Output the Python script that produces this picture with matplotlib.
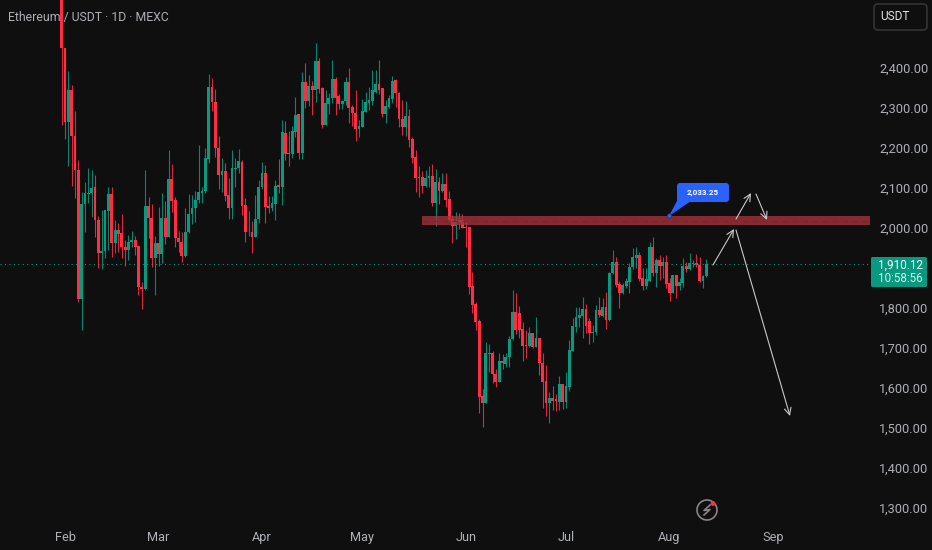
"""
Ethereum / USDT daily candles, dark TradingView look, with the resistance zone
and the hand drawn scenario arrows.
"""

import matplotlib
matplotlib.use('Agg')
import matplotlib.pyplot as plt
import matplotlib.dates as mdates
import pandas as pd
from matplotlib.patches import Rectangle, FancyBboxPatch, Circle, Polygon

opens = [
    2640, 2449, 2266, 2345, 2230, 2145, 1822, 2060, 2085, 2087,
    2103, 2020, 1937, 1943, 2043, 2084, 1962, 1995, 1987, 1953,
    1945, 1966, 1970, 1955, 1853, 1847, 2055, 2024, 1926, 1962,
    1935, 2024, 1978, 2122, 2070, 1976, 1966, 1931, 1989, 2034,
    2049, 2070, 2088, 2093, 2172, 2352, 2314, 2199, 2132, 2142,
    2082, 2049, 2148, 2149, 2166, 2057, 1989, 1991, 1978, 2022,
    2103, 2137, 2055, 2051, 2060, 2107, 2103, 2238, 2188, 2185,
    2241, 2284, 2188, 2366, 2317, 2356, 2345, 2418, 2349, 2258,
    2310, 2324, 2372, 2330, 2310, 2317, 2366, 2303, 2287, 2248,
    2253, 2290, 2313, 2318, 2341, 2359, 2349, 2285, 2303, 2323,
    2370, 2338, 2272, 2253, 2280, 2222, 2177, 2127, 2127, 2105,
    2124, 2131, 2062, 2115, 2093, 2111, 2072, 2022, 2006, 2016,
    2020, 2002, 2002, 1855, 1810, 1767, 1580, 1563, 1685, 1687,
    1634, 1616, 1668, 1660, 1677, 1722, 1791, 1788, 1747, 1707,
    1705, 1737, 1702, 1724, 1663, 1617, 1562, 1574, 1572, 1566,
    1610, 1566, 1603, 1693, 1753, 1776, 1780, 1797, 1767, 1738,
    1740, 1795, 1780, 1803, 1770, 1887, 1916, 1860, 1837, 1856,
    1866, 1902, 1926, 1932, 1874, 1855, 1868, 1952, 1887, 1920,
    1906, 1916, 1862, 1838, 1882, 1855, 1863, 1906, 1897, 1910,
    1913, 1907, 1868, 1880,
]
closes = [
    2449, 2266, 2345, 2230, 2145, 1822, 2060, 2087, 2088, 2099,
    2020, 1937, 1943, 2045, 2084, 1962, 1995, 1985, 1952, 1945,
    1966, 1970, 1953, 1852, 1847, 2055, 2024, 1926, 1962, 1935,
    2024, 1978, 2122, 2068, 1974, 1964, 1931, 1989, 2034, 2049,
    2070, 2091, 2093, 2176, 2352, 2314, 2201, 2132, 2142, 2080,
    2049, 2149, 2151, 2168, 2055, 1989, 1991, 1978, 2022, 2103,
    2137, 2053, 2051, 2062, 2105, 2103, 2239, 2185, 2185, 2242,
    2283, 2188, 2366, 2317, 2356, 2345, 2418, 2347, 2258, 2312,
    2324, 2372, 2326, 2310, 2317, 2366, 2301, 2287, 2248, 2255,
    2292, 2314, 2320, 2345, 2359, 2345, 2285, 2305, 2324, 2368,
    2337, 2272, 2253, 2280, 2220, 2174, 2126, 2126, 2105, 2124,
    2131, 2062, 2115, 2093, 2111, 2070, 2020, 2006, 2018, 2020,
    2001, 2001, 1853, 1808, 1766, 1578, 1563, 1687, 1687, 1634,
    1616, 1668, 1662, 1677, 1722, 1791, 1745, 1745, 1706, 1705,
    1737, 1702, 1724, 1663, 1616, 1562, 1574, 1568, 1568, 1610,
    1566, 1605, 1695, 1755, 1777, 1782, 1797, 1755, 1738, 1740,
    1795, 1782, 1803, 1770, 1888, 1916, 1857, 1837, 1857, 1868,
    1903, 1927, 1932, 1873, 1855, 1872, 1952, 1887, 1920, 1906,
    1916, 1859, 1838, 1882, 1855, 1866, 1905, 1897, 1912, 1913,
    1907, 1868, 1880, 1910,
]
highs = [
    2800, 2449, 2393, 2357, 2292, 2170, 2091, 2116, 2149, 2145,
    2132, 2030, 2045, 2045, 2103, 2102, 2020, 2012, 2035, 1970,
    1982, 1992, 1980, 1958, 1866, 2145, 2078, 2060, 1980, 2052,
    2087, 2068, 2195, 2160, 2078, 1992, 1989, 2049, 2084, 2082,
    2092, 2207, 2103, 2199, 2384, 2374, 2347, 2231, 2174, 2163,
    2124, 2195, 2174, 2197, 2170, 2074, 2043, 2017, 2082, 2120,
    2164, 2157, 2080, 2081, 2120, 2172, 2270, 2267, 2242, 2255,
    2327, 2284, 2391, 2413, 2382, 2367, 2462, 2424, 2353, 2345,
    2337, 2420, 2378, 2335, 2320, 2378, 2401, 2307, 2345, 2270,
    2322, 2339, 2353, 2395, 2395, 2420, 2349, 2320, 2332, 2381,
    2372, 2341, 2320, 2317, 2297, 2228, 2195, 2155, 2143, 2145,
    2155, 2159, 2147, 2127, 2137, 2137, 2093, 2033, 2041, 2037,
    2034, 2018, 2002, 1889, 1816, 1772, 1597, 1716, 1710, 1692,
    1647, 1688, 1685, 1687, 1730, 1845, 1837, 1806, 1764, 1745,
    1753, 1738, 1777, 1724, 1687, 1657, 1591, 1606, 1584, 1631,
    1610, 1641, 1720, 1774, 1803, 1803, 1828, 1809, 1775, 1757,
    1807, 1827, 1824, 1841, 1891, 1945, 1928, 1868, 1863, 1874,
    1912, 1951, 1953, 1939, 1901, 1899, 1964, 1977, 1924, 1932,
    1928, 1932, 1874, 1883, 1882, 1874, 1924, 1916, 1938, 1920,
    1934, 1927, 1882, 1922,
]
lows = [
    2258, 2222, 2156, 2106, 2074, 1816, 1745, 1991, 2062, 2028,
    1977, 1901, 1897, 1924, 1945, 1927, 1937, 1941, 1924, 1906,
    1920, 1953, 1932, 1832, 1797, 1845, 1974, 1903, 1833, 1906,
    1912, 1960, 1977, 2040, 1953, 1941, 1916, 1928, 1987, 2010,
    2016, 2062, 2062, 2087, 2163, 2292, 2178, 2097, 2090, 2068,
    2022, 2022, 2102, 2137, 2032, 1966, 1980, 1937, 1978, 2012,
    2097, 2013, 2038, 2042, 2020, 2087, 2058, 2170, 2156, 2174,
    2227, 2172, 2172, 2301, 2305, 2282, 2316, 2337, 2251, 2258,
    2285, 2312, 2283, 2298, 2298, 2307, 2263, 2255, 2218, 2228,
    2253, 2290, 2295, 2307, 2337, 2335, 2278, 2263, 2299, 2312,
    2303, 2253, 2232, 2230, 2203, 2162, 2091, 2077, 2087, 2102,
    2103, 2055, 2006, 2060, 2089, 2053, 2018, 1963, 1973, 1998,
    1999, 1953, 1835, 1787, 1745, 1537, 1503, 1562, 1640, 1612,
    1602, 1616, 1647, 1652, 1652, 1720, 1735, 1724, 1668, 1676,
    1703, 1699, 1702, 1632, 1549, 1530, 1512, 1545, 1543, 1545,
    1547, 1549, 1592, 1693, 1741, 1753, 1726, 1737, 1710, 1716,
    1732, 1778, 1778, 1747, 1768, 1885, 1853, 1799, 1834, 1849,
    1838, 1897, 1899, 1868, 1845, 1847, 1868, 1880, 1852, 1870,
    1874, 1849, 1818, 1837, 1826, 1845, 1853, 1889, 1895, 1902,
    1903, 1866, 1851, 1878,
]
first_day = '2025-01-31'
# 1,900.00 sits behind the last price tag in the chart, so it is left out
price_ticks = [1300, 1400, 1500, 1600, 1700, 1800, 2000, 2100, 2200, 2300, 2400]
last_price = 1910.12
countdown = '10:58:56'
zone_low = 2007.5
zone_high = 2030.0
zone_start = '2025-05-19'
callout_text = '2,033.25'

color_bg = '#0F0F0F'
color_up = '#089981'
color_down = '#FF2E45'
color_text = '#AEB0B6'
color_arrow = '#C8C8C8'
font = 'Roboto'

W, H = 932, 550
plot_w, plot_h = 870, 525
px_per_day = 3.34

fig = plt.figure(figsize=(W / 100, H / 100), dpi=100, facecolor=color_bg)
ax = fig.add_axes([0, (H - plot_h) / H, plot_w / W, plot_h / H], facecolor=color_bg)

days = mdates.date2num(pd.date_range(first_day, periods=len(opens)))
feb1 = mdates.date2num(pd.Timestamp('2025-02-01'))

colors = [color_up if c >= o else color_down for o, c in zip(opens, closes)]
ax.vlines(days, lows, highs, colors=colors, lw=0.8, alpha=0.85, zorder=3)
ax.bar(days, [abs(c - o) for o, c in zip(opens, closes)],
       bottom=[min(o, c) for o, c in zip(opens, closes)],
       width=0.84, color=colors, lw=0, zorder=4)

# resistance zone and its middle line
zone_x = mdates.date2num(pd.Timestamp(zone_start))
ax.add_patch(Rectangle((zone_x, zone_low), 400, zone_high - zone_low,
                       facecolor='#A8323D', alpha=0.78, lw=0, zorder=5))
ax.plot([zone_x, zone_x + 400], [(zone_low + zone_high) / 2] * 2, color='#6E2A30',
        lw=0.8, ls=(0, (5, 4)), zorder=6)

ax.axhline(last_price, color=color_up, lw=0.8, ls=(0, (1, 3)), zorder=2)

ax.set_xlim(feb1 - 65 / px_per_day, feb1 + (plot_w - 65) / px_per_day)
ax.set_ylim(2000 + (228 - plot_h) * 2.5, 2000 + 228 * 2.5)

ax.yaxis.tick_right()
ax.set_yticks(price_ticks)
ax.set_yticklabels([f'{p:,.2f}' for p in price_ticks], fontfamily=font, fontsize=9.2,
                   color=color_text)
ax.xaxis.set_major_locator(mdates.MonthLocator())
ax.xaxis.set_major_formatter(mdates.DateFormatter('%b'))
for lab in ax.get_xticklabels():
    lab.set_fontfamily(font)
    lab.set_fontsize(9.2)
    lab.set_color(color_text)
ax.tick_params(axis='x', length=0, pad=4.3)
ax.tick_params(axis='y', length=0, pad=6.5)
for side in ax.spines.values():
    side.set_visible(False)

ax.text(8 / plot_w, 1 - 17 / plot_h, 'Ethereum / USDT · 1D · MEXC', transform=ax.transAxes,
        fontfamily=font, fontsize=8.8, color=color_text, va='center', ha='left', zorder=1)

# overlay in pixel coordinates for drawings and labels
ov = fig.add_axes([0, 0, 1, 1])
ov.set_axis_off()
ov.set_xlim(0, W)
ov.set_ylim(H, 0)


def arrow(start, tip):
    ov.annotate('', xy=tip, xytext=start,
                arrowprops=dict(arrowstyle='->,head_length=0.45,head_width=0.22', color=color_arrow,
                                lw=0.8, shrinkA=0, shrinkB=0, mutation_scale=11))


arrow((713, 265), (734, 229))
arrow((736, 230), (790, 416))
arrow((736, 219), (751, 193))
arrow((756, 194), (767, 220))

# callout
ov.add_patch(Polygon([(669, 216), (678, 199), (691, 201)], facecolor='#2962FF', lw=0))
ov.add_patch(FancyBboxPatch((679, 185), 48, 15, boxstyle='round,pad=2,rounding_size=3',
                            facecolor='#2962FF', lw=0))
ov.add_patch(Circle((669.5, 216), 2.2, facecolor='#2962FF', edgecolor='#12307A', lw=0.5))
ov.text(703, 192, callout_text, fontfamily=font, fontsize=5.8, fontweight='bold', color='white',
        va='center', ha='center')

# last price tag
ov.add_patch(FancyBboxPatch((872, 258), 54, 28, boxstyle='round,pad=1,rounding_size=1.5',
                            facecolor=color_up, lw=0))
ov.text(900.5, 265, f'{last_price:,.2f}', fontfamily=font, fontsize=8.4, color='white',
        va='center', ha='center')
ov.text(900.5, 279, countdown, fontfamily=font, fontsize=8.4, color='#D5EFEA',
        va='center', ha='center')

# currency button
ov.add_patch(FancyBboxPatch((876, 6), 49, 22, boxstyle='round,pad=2,rounding_size=4',
                            facecolor=color_bg, edgecolor='#343434', lw=1.2))
ov.text(895, 17, 'USDT', fontfamily=font, fontsize=8.6, color='#E4E4E4', va='center', ha='center')

# lightning badge
ov.add_patch(Circle((707, 510), 10, facecolor='none', edgecolor='#8C8484', lw=1.2))
ov.plot([710, 704, 710, 704], [505, 510.5, 509.5, 515], color='#8C8484', lw=1.2)
ov.add_patch(Circle((713, 503.5), 2.4, facecolor='#F23645', lw=0))

fig.savefig('out.png', dpi=100, facecolor=color_bg)
